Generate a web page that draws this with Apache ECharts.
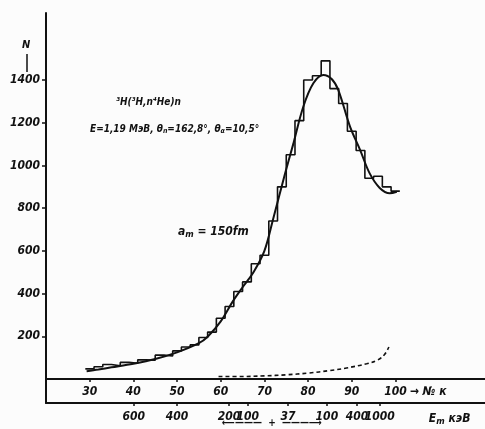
<!DOCTYPE html>
<html><head><meta charset="utf-8">
<script src="https://cdn.jsdelivr.net/npm/echarts@6/dist/echarts.min.js"></script>
<style>html,body{margin:0;padding:0;background:#fcfcfc}#c{width:485px;height:429px}</style>
</head><body><div id="c"></div>
<script>
// ---- data ----
const binCenters = [30,32,34,36,38,40,42,44,46,48,50,52,54,56,58,60,62,64,66,68,70,72,74,76,78,80,82,84,86,88,90,92,94,96,98,100];
const histCounts = [48,58,68,62,78,74,90,88,112,108,132,150,160,195,220,285,340,410,455,540,580,740,900,1050,1210,1400,1420,1490,1360,1290,1160,1070,940,950,900,880];
const curveX = [29.3,32,35,40,45,50,55,57,60,62.8,65,67.5,70,72,74.7,76.6,78.9,81.2,83.5,85.4,86.9,89.6,91.9,94.1,96.4,98.7,100.3];
const curveN = [37,45,55,72,94,125,168,198,270,365,430,500,600,750,960,1100,1275,1385,1424,1405,1354,1182,1073,963,895,870,877];
const bgX = [59.5,65,70,75,80,85,88.8,93.4,96,97.5,98.5];
const bgN = [12,12,15,20,28,40,52,72,90,115,150];
const yTicks = [200,400,600,800,1000,1200,1400];
const channelTicks = [30,40,50,60,70,80,90,100];
const channelTitlePos = 107.5, channelTitle = '→ № к';
const energyPos = [40.1,50,61.9,66.2,75.4,84.3,91.2,96.4];
const energyLabels = ['600','400','200','100','37','100','400','1000'];
const energyTitlePos = 112.4;

const FONT = "'Liberation Sans Narrow','DejaVu Sans Condensed',sans-serif";
const lblStyle = {color:'#111', fontFamily:FONT, fontStyle:'italic', fontWeight:'bold', fontSize:12};

const histData = binCenters.map((c,i)=>[c-1, histCounts[i]]);
histData.push([binCenters[binCenters.length-1]+1, histCounts[histCounts.length-1]]);
const curveData = curveX.map((x,i)=>[x, curveN[i]]);
const bgData = bgX.map((x,i)=>[x, bgN[i]]);

const chart = echarts.init(document.getElementById('c'), null, {renderer:'canvas'});
chart.setOption({
  backgroundColor:'#fcfcfc',
  animation:false,
  grid:{left:46, right:0, top:13, bottom:26},
  xAxis:[{
    type:'value', min:20, max:120.5, position:'bottom', offset:-24,
    axisLine:{onZero:false, lineStyle:{color:'#111', width:2}},
    axisTick:{show:true, length:3, customValues:channelTicks, lineStyle:{color:'#111', width:1.5}},
    axisLabel:Object.assign({margin:7, hideOverlap:false, showMaxLabel:true, customValues:channelTicks.concat([channelTitlePos]),
      formatter:v=> Math.abs(v-channelTitlePos)<1e-6 ? channelTitle : String(v)}, lblStyle),
    splitLine:{show:false}
  },{
    type:'value', min:20, max:120.5, position:'bottom', offset:0,
    axisLine:{onZero:false, lineStyle:{color:'#111', width:2}},
    axisTick:{show:true, length:3, customValues:energyPos, lineStyle:{color:'#111', width:1.5}},
    axisLabel:Object.assign({margin:8, hideOverlap:false, customValues:energyPos.concat([energyTitlePos]),
      formatter:v=>{
        if (Math.abs(v-energyTitlePos)<1e-6) return '{b|E}{s|m} {b|кэВ}';
        const i = energyPos.findIndex(p=>Math.abs(p-v)<1e-6);
        return i>=0 ? energyLabels[i] : '';
      },
      rich:{b:Object.assign({}, lblStyle), s:Object.assign({}, lblStyle, {fontSize:9, verticalAlign:'bottom', padding:[6,0,0,0]})}
    }, lblStyle),
    splitLine:{show:false}
  }],
  yAxis:{
    type:'value', min:-112, max:1714,
    axisLine:{show:true, onZero:false, lineStyle:{color:'#111', width:2}},
    axisTick:{show:true, length:4, customValues:yTicks, lineStyle:{color:'#111', width:1.5}},
    axisLabel:Object.assign({margin:6, customValues:yTicks, formatter:v=>String(v)}, lblStyle),
    splitLine:{show:false}
  },
  series:[
    {type:'line', data:histData, step:'end', symbol:'none', xAxisIndex:0,
     lineStyle:{color:'#111', width:1.6}},
    {type:'line', data:curveData, smooth:0.35, symbol:'none', xAxisIndex:0,
     lineStyle:{color:'#111', width:2}},
    {type:'line', data:bgData, smooth:0.4, symbol:'none', xAxisIndex:0,
     lineStyle:{color:'#111', width:1.6, type:[4,3]}}
  ],
  graphic:[
    {type:'text', left:22, top:40, style:{text:'N', font:"italic bold 11px "+FONT, fill:'#111'}},
    {type:'line', shape:{x1:27, y1:54, x2:27, y2:72}, style:{stroke:'#111', lineWidth:1.5}},
    {type:'text', left:116, top:97, style:{text:'³H(³H,n⁴He)n', font:"italic bold 10px "+FONT, fill:'#111'}},
    {type:'text', left:90, top:124, style:{
      text:'{b|E=1,19 МэВ, θ}{s|n}{b|=162,8°, θ}{s|α}{b|=10,5°}',
      rich:{b:{font:"italic bold 10px "+FONT, fill:'#111'}, s:{font:"italic bold 7px "+FONT, fill:'#111', padding:[5,0,0,0]}}
    }},
    {type:'text', left:178, top:226, style:{
      text:'{b|a}{s|m}{b| = 150fm}',
      rich:{b:{font:"italic bold 12px "+FONT, fill:'#111'}, s:{font:"italic bold 9px "+FONT, fill:'#111', padding:[6,0,0,0]}}
    }},
    {type:'text', left:222, top:418, style:{text:'⟵———  +  ———⟶', font:"bold 10px "+FONT, fill:'#111'}}
  ]
});
</script></body></html>
